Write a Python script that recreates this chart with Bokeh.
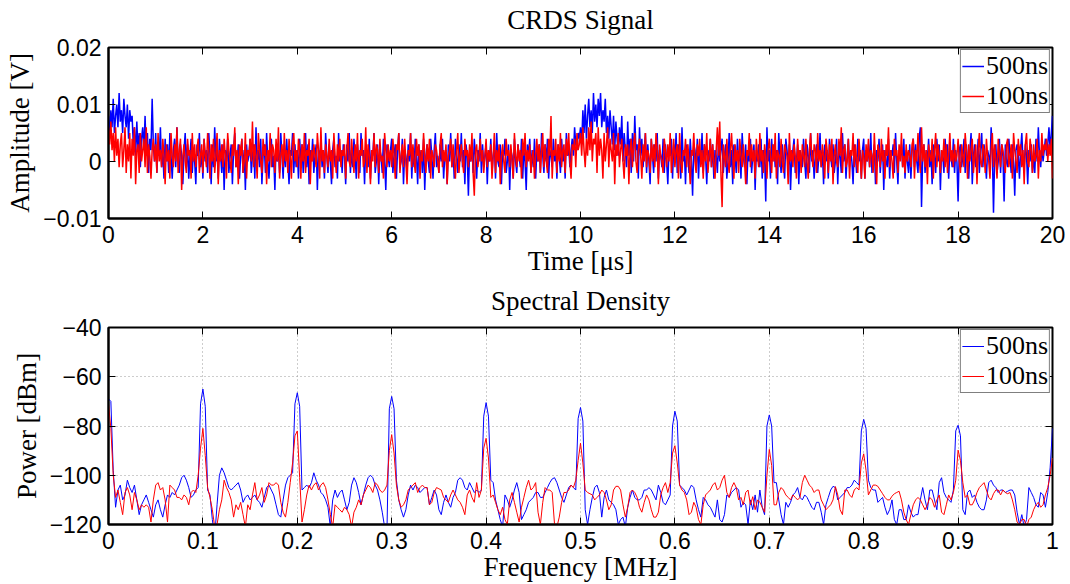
from bokeh.plotting import figure
from bokeh.layouts import column
from bokeh.models import FixedTicker, LinearAxis, Range1d, Legend, LegendItem
from bokeh.embed import file_html
from bokeh.resources import INLINE

SERIF = "Liberation Serif"
SANS = "Liberation Sans"
BLUE = "#0000FF"
RED = "#FF0000"

# ---------------- data ----------------
series_labels = ["500ns", "100ns"]

# CRDS signal, sampled every 0.025 us, values in mV (one row = 1 us)
time_step_us = 0.025
signal_500ns_mV = [
    8, 4, 9, 6, 11, 5, 8, 10, 6, 12, 7, 9, 5, 11, 8, 6, 10, 4, 9, 7, 8, 3, 6, 1, 7, 2, 5, -1, 4, 6, 2, 8, 1, 5, -2, 4, 2, 11, 3, 0,
    5, -2, 3, 1, 6, -1, 2, -3, 4, 0, 3, -2, 5, 1, -3, 2, 4, -1, 6, 0, -2, 3, 1, -4, 2, 5, -1, 3, -3, 1, 4, -2, 2, 0, -4, 3, 1, 5, -1, 2,
    -3, 4, 0, 2, -2, 5, 1, -4, 3, -1, 6, 0, 2, -3, 4, 1, -2, 3, -5, 2, 0, 4, -2, 1, 3, -4, 2, 5, -1, 0, 3, -3, 1, 4, -2, 2, -5, 3, 0, 1,
    4, -2, 1, 3, -3, 6, 0, 2, -1, 4, -4, 1, 3, -2, 5, 0, -3, 2, 4, -1, 1, -5, 3, 0, 2, -2, 5, 1, -3, 3, -1, 4, 0, -4, 2, 1, 5, -2, 3, -1,
    2, -3, 4, 0, 3, -2, 1, 5, -1, 3, -4, 2, 0, 4, -2, 1, 3, -5, 2, 0, 4, -1, 2, -3, 5, 1, -2, 3, 0, -4, 2, 4, -1, 1, -3, 5, 0, 2, -2, 3,
    1, -4, 3, 0, 5, -2, 2, -1, 4, 1, -3, 3, 0, -2, 5, 1, 2, -4, 3, 0, -1, 4, -3, 2, 1, 5, -2, 0, 3, -4, 2, 1, -2, 4, 0, -5, 3, 1, -1, 2,
    4, -2, 1, 3, -3, 2, 5, -1, 0, 4, -4, 2, 1, -2, 3, 0, 5, -3, 2, -1, 4, 1, -4, 3, 0, 2, -2, 4, -5, 1, 3, 0, -2, 4, 1, -3, 2, 5, -1, 1,
    -2, 3, 0, 4, -3, 1, 2, -4, 3, 0, 5, -1, 2, -3, 4, 1, -2, 3, 0, 5, -1, 2, -4, 3, 1, -6, 2, 0, 3, -2, 4, 1, -3, 2, 0, 5, -2, 3, -1, 1,
    3, -4, 2, 0, 4, -2, 1, 3, -3, 5, 0, -1, 3, -4, 2, 1, 4, -2, 0, 3, -5, 2, 1, -3, 4, 0, -2, 3, 1, -1, 4, -3, 2, 0, -5, 3, 1, 4, -2, 2,
    -1, 4, -3, 2, 0, 3, -2, 5, 1, -2, 3, 0, 4, -3, 2, 1, -1, 4, 0, 2, -3, 3, 1, -2, 4, 0, 2, -3, 5, 1, 3, -1, 2, 4, 1, 6, 3, 2, 5, 4,
    6, 3, 9, 5, 10, 4, 8, 11, 6, 9, 5, 12, 7, 10, 6, 11, 8, 12, 6, 9, 7, 11, 5, 8, 4, 9, 6, 3, 8, 2, 7, 4, 1, 6, 3, 8, 0, 5, 2, -1,
    7, 1, 4, -2, 5, 0, 8, 2, 3, -3, 6, 1, 4, -1, 2, 5, -2, 3, 0, -4, 4, 1, -2, 3, 0, 5, -3, 2, 1, -1, 4, -2, 3, 0, -4, 2, 1, 4, -3, 3,
    0, 5, -2, 3, 1, -3, 6, 0, 2, -4, 3, 1, -2, 4, 0, -6, 3, 2, -1, 4, -3, 2, 0, 5, -2, 3, 1, -4, 2, 0, 4, -1, 3, -3, 2, 1, -2, 4, 0, 2,
    4, -2, 1, 3, -3, 0, 5, -1, 2, -4, 3, 1, -2, 4, 0, 2, -3, 5, 1, -1, 3, -4, 2, 0, 4, -2, 1, 3, -5, 2, 0, 3, -1, 4, -3, 2, 1, -7, 6, 0,
    2, -3, 4, 0, 3, -1, 2, -4, 5, 1, -2, 3, 0, -3, 4, 2, -1, 3, -5, 1, 2, 4, -2, 0, 3, -4, 2, 1, -1, 4, 0, -3, 3, 1, -2, 5, 0, 2, -3, 1,
    3, -2, 1, 5, -1, 2, -4, 3, 0, 2, -3, 4, 1, -1, 3, -2, 0, 4, -4, 2, 1, -2, 5, 0, 3, -3, 1, 4, -1, 2, 0, -4, 3, 1, -2, 4, 0, 2, -3, 2,
    4, -3, 2, 0, 3, -1, 5, -2, 1, 3, -4, 2, 0, 4, -2, 1, 3, -5, 2, 0, -1, 4, -3, 2, 1, 3, -2, 5, 0, -4, 2, 1, 3, -1, 4, -3, 2, 0, -2, 3,
    -3, 2, 4, -1, 3, 0, -2, 4, 6, -8, 1, 3, -2, 2, 0, 4, -1, 2, -4, 3, 1, -2, 4, 0, 3, -5, 2, 1, -2, 4, 0, 3, -3, 2, 1, -1, 4, -2, 2, 0,
    -7, 2, 3, -1, 1, 4, -2, 3, 0, -3, 2, 5, -4, 1, 3, -1, 0, 4, -2, 2, 5, -1, 3, 0, -3, 2, 1, -1, 6, 2, -9, 1, 3, -2, 0, 4, -2, 3, 1, -7,
    3, 0, -1, 4, 1, -2, 3, 0, -6, 2, 3, 1, -3, 2, 5, 0, -1, 3, 1, -4, 2, 0, 3, -2, 1, -2, 4, 0, 6, 1, -1, 3, 0, 2, 4, 1, 3, 6, 2, 5,
    8,
]
signal_100ns_mV = [
    6, 3, 7, 2, 5, 0, 6, 1, 4, -1, 3, 5, -1, 2, 6, -2, 3, 0, 5, -3, 4, 1, 6, -4, 2, 3, -2, 5, 0, 2, 4, -1, 6, -2, 3, 1, -3, 2, 4, 0,
    3, -2, 5, 0, 2, -1, 4, 1, -4, 3, 0, 2, -3, 5, 1, -1, 3, 0, 6, -2, 2, 4, -5, 1, 3, 0, -2, 4, 1, 2, -3, 5, 0, 3, -1, 2, 4, -2, 1, 3,
    -2, 4, 1, -1, 5, 2, -3, 3, 0, 4, -2, 1, 5, -4, 2, 0, 3, -1, 4, 1, -3, 5, 2, 0, -2, 3, 1, 6, -1, 2, -4, 3, 1, 4, -2, 0, 5, -3, 2, 1,
    4, 0, 7, -1, 3, 1, -3, 5, 2, 0, -2, 4, 1, 3, -4, 2, 0, 5, -1, 3, 2, -2, 4, 0, 6, -3, 1, 3, -1, 5, 0, 2, -2, 4, 1, -3, 3, 5, 0, 2,
    -1, 4, 2, -3, 3, 0, 5, -2, 2, 1, 4, -4, 2, 0, 3, 1, -1, 5, 2, -3, 6, 0, 2, -2, 3, 1, -1, 4, 0, 2, -3, 5, 1, -2, 3, 0, 4, -1, 2, 1,
    3, -3, 2, 5, 0, -1, 4, 1, -2, 3, 0, 5, -3, 2, 1, 4, -1, 0, 6, -2, 3, 1, -4, 2, 0, 5, -1, 3, 2, -2, 4, 0, 1, -3, 5, 2, -1, 3, 0, 2,
    -1, 4, 1, -3, 3, 2, 5, -2, 1, 3, -1, 4, 0, -4, 2, 1, 5, -1, 3, 0, -2, 4, 1, 3, -3, 2, 0, 5, 1, -2, 3, 0, 4, -3, 2, 1, -1, 3, 2, 0,
    -2, 3, 5, -1, 2, 0, 3, -4, 1, 2, 4, -1, 3, 0, -3, 2, 5, -2, 1, 3, 0, -2, 4, 1, 2, -1, 3, 0, 5, -2, -6, 2, 3, -1, 1, 4, 0, 2, -2, 1,
    4, -1, 2, 0, 3, -3, 1, 5, -2, 2, 0, 3, -4, 1, 3, 0, -2, 4, 1, 2, -1, 3, 0, -3, 5, 1, -1, 3, 0, 2, -3, 4, 1, 5, -1, 2, 0, 3, -2, 1,
    2, -3, 1, 4, 0, 3, -2, 2, 5, -1, 3, 0, -2, 4, 1, 8, -3, 2, 1, 4, -2, 3, 0, 5, -1, 2, 3, -2, 4, 1, 5, 0, -3, 3, 2, 4, -1, 5, 2, 3,
    5, 1, 6, 2, -1, 4, 1, 6, 2, 7, 0, 4, 3, 5, -2, 6, 1, 4, 2, -3, 5, 0, 3, 6, -1, 4, 2, 0, 5, -4, 3, 1, 5, -1, 2, 4, 0, -3, 3, 1,
    3, -4, 2, 4, -1, 3, 5, 0, -2, 2, 4, 1, -3, 3, 0, 5, -1, 2, 1, -2, 4, 0, 3, -1, 5, 2, -4, 3, 1, 0, -2, 4, 2, -1, 3, 0, 5, -2, 1, 4,
    -1, 2, 3, -3, 5, 0, -2, 2, 1, 4, -1, 3, 0, -4, 2, 1, 5, 0, -2, 3, 1, 4, -1, 2, -3, 3, 0, 5, -2, 1, 4, -1, 3, 0, -3, 2, 6, 1, 7, -2,
    -8, 3, 1, -1, 4, 0, -2, 2, 5, 1, -3, 3, 0, 2, -2, 4, 1, -1, 3, 0, -4, 2, 1, 5, -1, 3, 0, 2, -3, 4, 1, -1, 5, 0, 2, -2, 3, 1, -3, 2,
    4, 1, -2, 3, 0, 5, -3, 2, 1, -1, 4, 0, -2, 3, 2, 1, -4, 5, 0, 2, -1, 3, 1, -3, 4, 0, 2, -2, 3, 1, -1, 4, 0, -3, 2, 5, 1, -1, 3, 2,
    -2, 5, 0, 2, -1, 3, 1, -3, 4, 2, -2, 3, 0, 4, -4, 1, 3, 0, -1, 4, 1, 6, -2, 2, 3, -1, 0, 4, -3, 2, 1, 5, -1, 3, 0, -2, 4, 1, -3, 2,
    1, -3, 3, 0, 4, -1, 2, 1, -2, 5, 0, -4, 3, 2, -1, 4, 0, 2, -3, 3, 1, 6, -1, 2, 0, -3, 4, 1, 2, -2, 3, 0, 5, -1, 1, -2, 3, 0, 2, 1,
    -1, 3, 4, -3, 2, 0, 5, 1, -2, 6, 0, 3, -1, 2, -4, 3, 1, 0, 4, -3, 2, 5, -1, 3, 1, -2, 2, 0, 4, -1, 3, -2, 1, 5, 0, 2, -1, 3, 0, 1,
    4, 0, -2, 3, 1, -1, 5, 2, -3, 3, 0, 2, 4, -2, 1, 3, -4, 2, 5, 0, -1, 3, 2, -2, 4, 1, 0, -3, 2, 5, -1, 3, 0, -3, 4, 1, -1, 3, 2, 0,
    -2, 3, 4, -1, 1, 3, -3, 5, 2, 0, -2, 4, 1, 3, -1, 2, -4, 3, 5, 0, -1, 4, 2, -2, 3, 0, 1, 4, -3, 2, 0, 5, 1, 3, 2, 4, 0, 3, 1, 4,
    -3,
]

# Spectral density, sampled every 0.0025 MHz, values in dBm
freq_step_MHz = 0.0025
power_500ns_dBm = [
    -69, -70, -98, -113, -106, -104, -110, -108, -102, -105,
    -107, -104, -110, -116, -112, -110, -108, -111, -114, -117,
    -112, -110, -114, -117, -112, -108, -109, -107, -108, -106,
    -104, -101, -100, -102, -105, -109, -108, -106, -105, -71,
    -65, -72, -106, -108, -118, -125, -112, -100, -97, -99,
    -102, -105, -106, -105, -104, -103, -106, -111, -109, -108,
    -110, -109, -108, -110, -111, -113, -109, -105, -104, -106,
    -108, -112, -116, -117, -110, -104, -101, -100, -99, -71,
    -66.5, -72, -106, -105, -104, -105, -103, -99, -102, -104,
    -107, -108, -110, -113, -121, -110, -106, -109, -107, -106,
    -110, -114, -111, -104, -101, -103, -107, -112, -108, -104,
    -101, -100, -101, -104, -106, -110, -115, -121, -122, -73,
    -68, -73, -102, -110, -114, -117, -114, -108, -104, -106,
    -104, -105, -107, -106, -105, -105, -112, -109, -106, -108,
    -114, -116, -111, -108, -111, -113, -109, -107, -102, -101,
    -102, -105, -106, -103, -105, -107, -106, -107, -106, -76,
    -70.5, -76, -102, -103, -110, -114, -118, -121, -108, -110,
    -113, -110, -106, -103, -107, -118, -116, -114, -111, -110,
    -109, -107, -107, -109, -109, -107, -105, -103, -101.5, -101,
    -103, -106, -109, -111, -108, -105, -104, -105, -106, -77,
    -72.5, -78, -114, -120, -114, -109, -105, -104, -107, -117,
    -109, -106, -110, -111, -112, -114, -120, -118, -117, -121,
    -113, -109, -106, -109, -110, -110, -109, -106, -106, -105,
    -106, -108, -110, -104, -107, -111, -112, -110, -108, -80,
    -74, -78, -104, -105, -106, -108, -106, -104, -105, -110,
    -114, -117, -109, -110, -112, -113, -115, -117, -110, -118,
    -119, -116, -108, -109, -107, -106, -105, -106, -113, -111,
    -112, -120, -110, -114, -108, -115, -106, -113, -116, -80,
    -75.5, -80, -103, -103, -110, -116, -120, -111, -113, -111,
    -108, -107, -105, -109, -110, -108, -109, -111, -113, -114,
    -111, -111, -115, -120, -112, -109, -106, -104.5, -105, -110,
    -109, -108, -107, -105, -105, -104, -102, -103, -104, -82,
    -77.3, -81, -102, -105, -106, -106, -111, -110, -109, -113,
    -116, -114, -110, -118, -120, -114, -114, -118, -118, -112,
    -115, -117, -116, -116, -110, -105, -110, -114, -106, -106,
    -110, -114, -103, -101, -107, -109, -110, -111, -106, -82,
    -79.7, -84, -114, -116, -107, -106, -109, -108, -111, -113,
    -114, -114, -110, -103, -102, -104, -105, -107, -106, -106,
    -107, -106.5, -106, -106, -108, -115, -120, -116, -121, -118,
    -105, -107, -109, -112, -113, -107, -108, -113, -107, -97,
    -81,
]
power_100ns_dBm = [
    -71, -81, -100, -109, -106, -111, -116, -107, -105, -108,
    -114, -107, -110, -114, -112, -113, -112, -113, -119, -110,
    -104, -103, -106, -105, -110, -119, -104, -105, -106, -109,
    -109, -110, -108, -109, -112, -107, -106, -107, -100, -89,
    -81, -92, -105, -109, -114, -121, -120, -114, -110, -102,
    -105, -107, -110, -117, -112, -114, -111, -116, -121, -112,
    -114, -108, -103, -110, -108, -105, -111, -108, -103, -104,
    -104, -103, -104, -111, -115, -117, -111, -103, -95, -84,
    -82, -101, -119, -114, -108, -104, -106, -104, -103, -106,
    -104, -103, -105, -110, -116, -121, -112, -113, -114, -115,
    -113, -114, -116, -121, -115, -113, -110, -112, -108, -106,
    -104, -105, -107, -103, -104, -106, -107, -106, -104, -90,
    -83.5, -91, -104, -110, -113, -112, -110, -106, -105, -104,
    -103, -107, -105, -104, -105, -105, -112, -111, -107, -105,
    -105.5, -106, -109, -110, -111, -108, -106, -108, -110, -111,
    -113, -116, -108, -106, -109, -111, -103, -109, -106, -89,
    -85, -93, -109, -108, -111, -114, -116, -113, -118, -120,
    -110, -107, -111, -115, -119, -113, -109, -105, -102, -106,
    -105, -103, -115, -120, -111, -105, -106, -106, -107, -120,
    -121, -117, -111, -107, -107, -106, -104, -105, -102, -94,
    -87, -95, -106, -107, -107.5, -108, -110, -109, -108, -106,
    -107, -110, -114, -112, -106, -104.5, -104.5, -106, -112, -117,
    -113, -107, -106, -107, -109, -113, -115, -111, -108, -110,
    -114, -117, -117, -115, -108, -105, -103, -107, -103, -91,
    -88, -95, -104, -106, -107, -110, -116, -115, -111, -113,
    -118, -120, -112, -108, -107, -106, -104, -103, -106, -105,
    -102, -100, -107, -109, -105, -103, -105, -110, -109, -112,
    -107, -106, -112, -108.7, -114, -110, -111, -113, -115, -100,
    -89.5, -96, -112, -112, -107, -105, -106, -108, -109, -110,
    -108, -109, -110, -109, -103, -100, -102, -104, -105, -107,
    -106, -106, -110, -112, -114, -113, -112, -110, -104.6, -108,
    -114, -116, -106, -106, -108, -109, -106, -105, -106, -95,
    -91.3, -98, -108, -106, -104, -104, -104.5, -106, -107.5, -109,
    -110, -110, -108.5, -107.5, -107, -106.5, -110, -115, -118, -120,
    -116, -112, -110, -109, -110, -112, -114, -112, -109, -110,
    -113, -110, -108, -115, -116, -112, -108, -110, -107, -102,
    -89.8, -94, -103, -109, -108, -112, -112, -110, -107, -105,
    -104, -103, -106, -109, -110, -107.5, -106, -106, -108, -106,
    -107, -107.5, -107, -110, -114, -119, -120, -118, -118, -121,
    -118, -117, -114, -112, -111, -113, -112, -108, -105, -100,
    -93,
]

# axis ticks and labels
time_range = (0, 20)
amp_range = (-0.01, 0.02)
freq_range = (0, 1)
power_range = (-120, -40)
time_ticks = [0, 2, 4, 6, 8, 10, 12, 14, 16, 18, 20]
time_tick_labels = ["0", "2", "4", "6", "8", "10", "12", "14", "16", "18", "20"]
amp_ticks = [-0.01, 0, 0.01, 0.02]
amp_tick_labels = ["\u22120.01", "0", "0.01", "0.02"]
freq_ticks = [0, 0.1, 0.2, 0.3, 0.4, 0.5, 0.6, 0.7, 0.8, 0.9, 1]
freq_tick_labels = ["0", "0.1", "0.2", "0.3", "0.4", "0.5", "0.6", "0.7", "0.8", "0.9", "1"]
power_ticks = [-120, -100, -80, -60, -40]
power_tick_labels = ["\u2212120", "\u2212100", "\u221280", "\u221260", "\u221240"]

# ---------------- derived ----------------
t_500 = [i * time_step_us for i in range(len(signal_500ns_mV))]
t_100 = [i * time_step_us for i in range(len(signal_100ns_mV))]
v_500 = [v / 1000.0 for v in signal_500ns_mV]
v_100 = [v / 1000.0 for v in signal_100ns_mV]
f_500 = [i * freq_step_MHz for i in range(len(power_500ns_dBm))]
f_100 = [i * freq_step_MHz for i in range(len(power_100ns_dBm))]


def style(p, title, xlabel, ylabel, xt, xl, yt, yl, grid, title_gap):
    p.outline_line_color = "black"
    p.outline_line_width = 2
    p.outline_line_alpha = 1.0

    for ax, ticks, labels, lab, lstand in ((p.xaxis[0], xt, xl, xlabel, 0),
                                           (p.yaxis[0], yt, yl, ylabel, 5)):
        ax.ticker = FixedTicker(ticks=ticks)
        ax.major_label_overrides = dict(zip(ticks, labels))
        ax.axis_label = lab
        ax.axis_label_text_font = SERIF
        ax.axis_label_text_font_size = "27px"
        ax.axis_label_text_font_style = "normal"
        ax.axis_label_text_color = "black"
        ax.major_label_text_font = SANS
        ax.major_label_text_font_size = "23px"
        ax.major_label_text_color = "black"
        ax.major_label_standoff = 7
        ax.axis_label_standoff = lstand
        ax.major_tick_in = 7
        ax.major_tick_out = 0
        ax.minor_tick_line_color = None
        ax.axis_line_color = "black"
        ax.axis_line_width = 2
        ax.major_tick_line_color = "black"
        ax.major_tick_line_width = 1

    # box ticks on top / right; the top one also carries the plot title
    for ticks, loc in ((xt, "above"), (yt, "right")):
        ax = LinearAxis(ticker=FixedTicker(ticks=ticks))
        ax.major_label_text_font_size = "0px"
        ax.major_label_standoff = 0
        ax.major_tick_in = 7
        ax.major_tick_out = 0
        ax.minor_tick_line_color = None
        ax.axis_line_color = None
        ax.major_tick_line_color = "black"
        if loc == "above":
            ax.axis_label = title
            ax.axis_label_text_font = SERIF
            ax.axis_label_text_font_size = "27px"
            ax.axis_label_text_font_style = "normal"
            ax.axis_label_text_color = "black"
            ax.axis_label_standoff = title_gap
        p.add_layout(ax, loc)

    if grid:
        for g, ticks in ((p.xgrid[0], xt), (p.ygrid[0], yt)):
            g.ticker = FixedTicker(ticks=ticks)
            g.grid_line_color = "#9a9a9a"
            g.grid_line_dash = "1 3"
            g.grid_line_width = 1
    else:
        p.xgrid.grid_line_color = None
        p.ygrid.grid_line_color = None


def add_legend(p, r1, r2):
    leg = Legend(items=[LegendItem(label=series_labels[0], renderers=[r1]),
                        LegendItem(label=series_labels[1], renderers=[r2])])
    leg.location = "top_right"
    leg.label_text_font = SERIF
    leg.label_text_font_size = "26px"
    leg.label_text_line_height = 0.75
    leg.label_text_color = "black"
    leg.glyph_width = 22
    leg.glyph_height = 12
    leg.label_height = 12
    leg.label_standoff = 2
    leg.spacing = 0
    leg.padding = 1
    leg.margin = 2
    leg.border_line_color = "black"
    leg.border_line_width = 1.5
    leg.background_fill_alpha = 1.0
    p.add_layout(leg)


p1 = figure(frame_width=944, frame_height=171,
            x_range=Range1d(*time_range), y_range=Range1d(*amp_range),
            output_backend="svg", toolbar_location=None,
            min_border_left=108, min_border_right=18,
            min_border_top=47, min_border_bottom=64)
rb1 = p1.line(t_500, v_500, line_color=BLUE, line_width=1.5)
rr1 = p1.line(t_100, v_100, line_color=RED, line_width=1.5)
style(p1, "CRDS Signal", "Time [\u03bcs]", "Amplitude [V]",
      time_ticks, time_tick_labels, amp_ticks, amp_tick_labels, grid=False,
      title_gap=13)
add_legend(p1, rb1, rr1)

p2 = figure(frame_width=944, frame_height=197,
            x_range=Range1d(*freq_range), y_range=Range1d(*power_range),
            output_backend="svg", toolbar_location=None,
            min_border_left=108, min_border_right=18,
            min_border_top=43, min_border_bottom=54)
rb2 = p2.line(f_500, power_500ns_dBm, line_color=BLUE, line_width=1)
rr2 = p2.line(f_100, power_100ns_dBm, line_color=RED, line_width=1)
style(p2, "Spectral Density", "Frequency [MHz]", "Power [dBm]",
      freq_ticks, freq_tick_labels, power_ticks, power_tick_labels, grid=True,
      title_gap=12)
add_legend(p2, rb2, rr2)

layout = column(p1, p2, spacing=0)
open("out.html", "w").write(file_html(layout, INLINE))
